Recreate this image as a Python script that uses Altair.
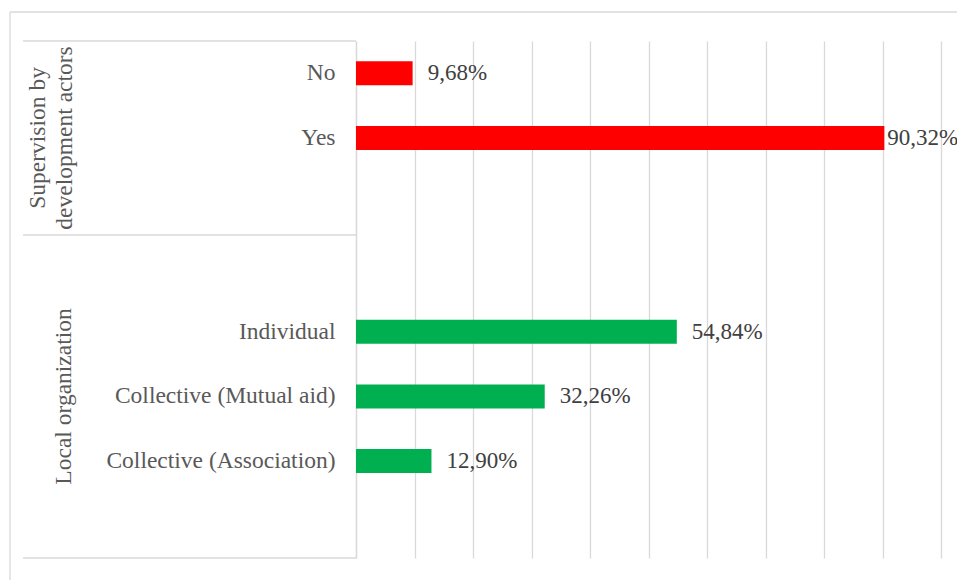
import altair as alt
import pandas as pd

# ---- data ----
categories = ["No", "Yes", "Individual", "Collective (Mutual aid)", "Collective (Association)"]
values = [9.68, 90.32, 54.84, 32.26, 12.90]
value_labels = ["9,68%", "90,32%", "54,84%", "32,26%", "12,90%"]
groups = ["Supervision by development actors", "Supervision by development actors",
          "Local organization", "Local organization", "Local organization"]
# category slots from top to bottom (blank slots separate the groups, as in the original)
slot_order = ["No", "Yes", " ", "  ", "Individual", "Collective (Mutual aid)",
              "Collective (Association)", "   "]
group_names = ["Supervision by development actors", "Local organization"]
group_colors = ["#ff0000", "#00b050"]

df = pd.DataFrame({"category": categories, "value": values,
                   "label": value_labels, "group": group_names and groups})

FONT = "Liberation Serif"
GRID = "#d9d9d9"
W, H = 585, 517

yscale = alt.Scale(domain=slot_order, paddingInner=0.629, paddingOuter=0.3145)
xscale = alt.Scale(domain=[0, 100])

base = alt.Chart(df)

bars = base.mark_bar().encode(
    x=alt.X("value:Q", scale=xscale,
            axis=alt.Axis(values=list(range(0, 101, 10)), grid=True, gridColor=GRID,
                          gridWidth=1.3, labels=False, ticks=False, domain=False, title=None)),
    y=alt.Y("category:N", scale=yscale,
            axis=alt.Axis(title=None, ticks=False, grid=False, labelPadding=21,
                          labelFont=FONT, labelFontSize=23.5, labelColor="#595959",
                          domainColor=GRID, domainWidth=1.3, labelLimit=400)),
    color=alt.Color("group:N", scale=alt.Scale(domain=group_names, range=group_colors), legend=None),
)

text_common = dict(baseline="middle", font=FONT, fontSize=23, color="#404040", align="left")
labels_out = base.transform_filter(alt.datum.value < 85).mark_text(dx=15, **text_common).encode(
    x=alt.X("value:Q", scale=xscale), y=alt.Y("category:N", scale=yscale), text="label:N")
labels_in = base.transform_filter(alt.datum.value >= 85).mark_text(dx=3, **text_common).encode(
    x=alt.X("value:Q", scale=xscale), y=alt.Y("category:N", scale=yscale), text="label:N")

# group labels (rotated), anchored vertically on the group's middle slot
gl_style = dict(angle=270, align="center", baseline="alphabetic", font=FONT,
                fontSize=23.5, color="#595959")
g1a = alt.Chart(pd.DataFrame({"t": ["Supervision by"], "c": ["Yes"]})).mark_text(**gl_style).encode(
    text="t:N", y=alt.Y("c:N", scale=yscale), x=alt.value(-311))
g1b = alt.Chart(pd.DataFrame({"t": ["development actors"], "c": ["Yes"]})).mark_text(**gl_style).encode(
    text="t:N", y=alt.Y("c:N", scale=yscale), x=alt.value(-284))
g2 = alt.Chart(pd.DataFrame({"t": ["Local organization"], "c": ["Collective (Mutual aid)"]})).mark_text(
    dy=0, **gl_style).encode(text="t:N", y=alt.Y("c:N", scale=yscale), x=alt.value(-285))

# decoration: table lines and outer frame
one = pd.DataFrame({"k": [0]})
rule_style = dict(color=GRID, strokeWidth=1.3)
deco = [
    alt.Chart(one).mark_rule(**rule_style).encode(x=alt.value(-333), x2=alt.value(0), y=alt.value(0)),
    alt.Chart(one).mark_rule(**rule_style).encode(x=alt.value(-333), x2=alt.value(0), y=alt.value(194)),
    alt.Chart(one).mark_rule(**rule_style).encode(x=alt.value(-333), x2=alt.value(0), y=alt.value(H)),
    alt.Chart(one).mark_rule(**rule_style).encode(x=alt.value(-346), y=alt.value(-29), y2=alt.value(560)),
    alt.Chart(one).mark_rule(**rule_style).encode(x=alt.value(-346), x2=alt.value(640), y=alt.value(-29)),
]

chart = alt.layer(bars, labels_out, labels_in, g1a, g1b, g2, *deco).properties(
    width=W, height=H,
    autosize=alt.AutoSizeParams(type="none"),
    padding={"left": 356, "top": 41, "right": 16, "bottom": 22},
    background="white",
).configure_view(stroke=None)

chart.save("out.html", embed_options={"renderer": "svg", "actions": False})
